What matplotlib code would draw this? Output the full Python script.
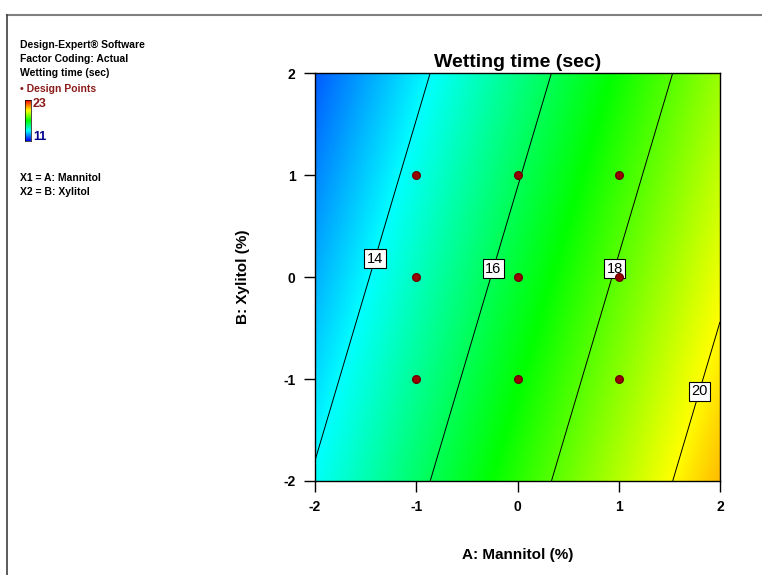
import numpy as np
import matplotlib
matplotlib.use("Agg")
import matplotlib.pyplot as plt
from matplotlib.colors import LinearSegmentedColormap
from matplotlib.lines import Line2D

plt.rcParams['font.family'] = ['Liberation Sans', 'DejaVu Sans']

# ---- data ----
title = "Wetting time (sec)"
x_label = "A: Mannitol (%)"
y_label = "B: Xylitol (%)"
ticks = [-2, -1, 0, 1, 2]
tick_labels = ["-2", "-1", "0", "1", "2"]
# fitted linear model: Wetting time = b0 + bA*A + bB*B
b0 = 16.44
bA = 1.67
bB = -0.50
contour_levels = [14, 16, 18, 20]
label_positions = [(-1.45, 0.19), (-0.27, 0.09), (0.93, 0.09), (1.77, -1.11)]
design_A = [-1, 0, 1, -1, 0, 1, -1, 0, 1]
design_B = [-1, -1, -1, 0, 0, 0, 1, 1, 1]
color_low, color_high = 11, 23
legend_lines = ["Design-Expert\u00ae Software", "Factor Coding: Actual", "Wetting time (sec)"]
factor_lines = ["X1 = A: Mannitol", "X2 = B: Xylitol"]

cmap = LinearSegmentedColormap.from_list(
    "de", [(0, "#0000ff"), (0.25, "#00ffff"), (0.5, "#00ff00"), (0.75, "#ffff00"), (1, "#ff0000")])

fig = plt.figure(figsize=(7.62, 5.75), dpi=100)
W, H = 762, 575
ax = fig.add_axes([315 / W, 1 - 481 / H, (720 - 315) / W, (481 - 73) / H])

g = np.linspace(-2, 2, 301)
A, B = np.meshgrid(g, g)
Z = b0 + bA * A + bB * B
ax.imshow(Z, extent=[-2, 2, -2, 2], origin="lower", cmap=cmap, vmin=color_low, vmax=color_high,
          aspect="auto", interpolation="bilinear")
cs = ax.contour(A, B, Z, levels=contour_levels, colors="black", linewidths=0.7)
labels = ax.clabel(cs, fmt="%d", fontsize=10.5, inline=False, manual=label_positions)
for t in labels:
    t.set_rotation(0)
    t.set_bbox(dict(facecolor="white", edgecolor="black", linewidth=0.8, pad=1.8))
    t.set_zorder(5)

ax.plot(design_A, design_B, "o", color="#9a0000", markeredgecolor="#6a0000", markersize=5.5, zorder=6)

ax.set_xlim(-2, 2)
ax.set_ylim(-2, 2)
ax.set_xticks(ticks)
ax.set_xticklabels(tick_labels)
ax.set_yticks(ticks)
ax.set_yticklabels(tick_labels)
ax.tick_params(direction="out", length=8, width=1, labelsize=10, pad=6)
for lab in ax.get_xticklabels() + ax.get_yticklabels():
    lab.set_fontweight("bold")
for s in ax.spines.values():
    s.set_linewidth(1)
ax.set_title(title, fontsize=14, fontweight="bold", pad=4)
ax.set_xlabel(x_label, fontsize=11, fontweight="bold", labelpad=24)
ax.set_ylabel(y_label, fontsize=11, fontweight="bold", labelpad=24)

# frame
fig.add_artist(Line2D([7 / W, 1], [1 - 15 / H, 1 - 15 / H], color="#808080", lw=1.5))
fig.add_artist(Line2D([7 / W, 7 / W], [0, 1 - 15 / H], color="#404040", lw=1.2))

# left legend texts
fs = 7.5
for i, s in enumerate(legend_lines):
    fig.text(20 / W, 1 - (45 + 14 * i) / H, s, fontsize=fs, fontweight="bold", va="center", ha="left")
fig.text(20 / W, 1 - 89 / H, "\u2022 Design Points", fontsize=fs, fontweight="bold", color="#8b1a1a",
         va="center", ha="left")
cax = fig.add_axes([25 / W, 1 - 141 / H, 6 / W, 41 / H])
cax.imshow(np.linspace(color_low, color_high, 100).reshape(-1, 1), origin="lower", cmap=cmap,
           vmin=color_low, vmax=color_high, aspect="auto")
cax.set_xticks([]); cax.set_yticks([])
for s in cax.spines.values():
    s.set_linewidth(0.5)
fig.text(33 / W, 1 - 104 / H, str(color_high), fontsize=9, fontweight="bold", color="#8b1a1a", va="center")
fig.text(33 / W, 1 - 137 / H, str(color_low), fontsize=9, fontweight="bold", color="#00008b", va="center")
for i, s in enumerate(factor_lines):
    fig.text(20 / W, 1 - (178 + 14 * i) / H, s, fontsize=fs, fontweight="bold", va="center", ha="left")

fig.savefig("out.png", dpi=100)
